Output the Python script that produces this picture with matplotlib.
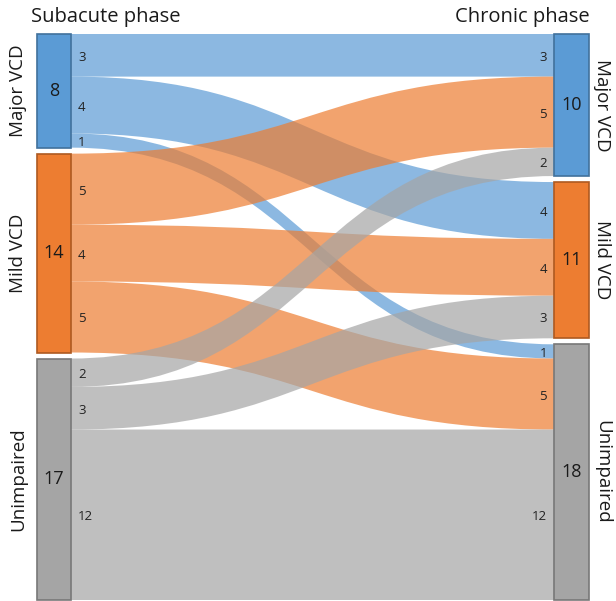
import numpy as np
import matplotlib.pyplot as plt
from matplotlib.path import Path
from matplotlib.patches import PathPatch, Rectangle

# --------------------------
# DATA
# --------------------------
categories = ["Major VCD", "Mild VCD", "Unimpaired"]
colors = ["#5B9BD5", "#ED7D31", "#A5A5A5"]
edge_colors = ["#41719C", "#AE5A21", "#787878"]

# flows[i][j] = patients going from subacute category i to chronic category j
flows = np.array([
    [3, 4, 1],
    [5, 4, 5],
    [2, 3, 12],
])
left_totals = flows.sum(axis=1)
right_totals = flows.sum(axis=0)

left_title = "Subacute phase"
right_title = "Chronic phase"

# --------------------------
# LAYOUT (pixel space)
# --------------------------
W, H = 616, 601
top = 34
gap = 6
unit = (H - 1 - top - gap * (len(categories) - 1)) / flows.sum()
lx0, lx1 = 37, 71
rx0, rx1 = 554, 589

plt.rcParams['font.family'] = ['Open Sans', 'DejaVu Sans']
fig = plt.figure(figsize=(W / 100, H / 100), dpi=100)
ax = fig.add_axes([0, 0, 1, 1])
ax.set_xlim(0, W)
ax.set_ylim(H, 0)
ax.axis("off")


def node_tops(totals):
    tops = []
    y = top
    for t in totals:
        tops.append(y)
        y += t * unit + gap
    return tops


ltops = node_tops(left_totals)
rtops = node_tops(right_totals)

# left side: flows stacked by target within each source
lcursor = list(ltops)
band_l = {}
for i in range(3):
    for j in range(3):
        band_l[(i, j)] = lcursor[i]
        lcursor[i] += flows[i, j] * unit

# right side: flows stacked by source within each target
rcursor = list(rtops)
band_r = {}
for j in range(3):
    for i in range(3):
        band_r[(i, j)] = rcursor[j]
        rcursor[j] += flows[i, j] * unit

xm = (lx1 + rx0) / 2
for i in range(3):
    for j in range(3):
        h = flows[i, j] * unit
        yl = band_l[(i, j)]
        yr = band_r[(i, j)]
        verts = [
            (lx1, yl), (xm, yl), (xm, yr), (rx0, yr),
            (rx0, yr + h),
            (xm, yr + h), (xm, yl + h), (lx1, yl + h),
            (lx1, yl),
        ]
        codes = [Path.MOVETO, Path.CURVE4, Path.CURVE4, Path.CURVE4,
                 Path.LINETO,
                 Path.CURVE4, Path.CURVE4, Path.CURVE4,
                 Path.CLOSEPOLY]
        ax.add_patch(PathPatch(Path(verts, codes), facecolor=colors[i],
                               edgecolor="none", alpha=0.7, zorder=1))
        ax.text(lx1 + 7, yl + h / 2 + 2, str(flows[i, j]), fontsize=9.5,
                ha="left", va="center", color="#222222", zorder=4)
        ax.text(rx0 - 7, yr + h / 2 + 2, str(flows[i, j]), fontsize=9.5,
                ha="right", va="center", color="#222222", zorder=4)

# nodes
for k in range(3):
    hl = left_totals[k] * unit
    hr = right_totals[k] * unit
    ax.add_patch(Rectangle((lx0, ltops[k]), lx1 - lx0, hl, facecolor=colors[k],
                           edgecolor=edge_colors[k], lw=1.2, zorder=3))
    ax.add_patch(Rectangle((rx0, rtops[k]), rx1 - rx0, hr, facecolor=colors[k],
                           edgecolor=edge_colors[k], lw=1.2, zorder=3))
    ax.text((lx0 + lx1) / 2, ltops[k] + hl / 2, str(left_totals[k]), fontsize=13,
            ha="center", va="center", color="#1a1a1a", zorder=5)
    ax.text((rx0 + rx1) / 2, rtops[k] + hr / 2, str(right_totals[k]), fontsize=13,
            ha="center", va="center", color="#1a1a1a", zorder=5)
    ax.text(18, ltops[k] + hl / 2, categories[k], fontsize=13.5, rotation=90,
            ha="center", va="center", color="#1a1a1a")
    ax.text(602, rtops[k] + hr / 2, categories[k], fontsize=13.5, rotation=270,
            ha="center", va="center", color="#1a1a1a")

ax.text(31, 17, left_title, fontsize=14.5, ha="left", va="center", color="#1a1a1a")
ax.text(590, 17, right_title, fontsize=14.5, ha="right", va="center", color="#1a1a1a")

fig.savefig("out.png", dpi=100)
